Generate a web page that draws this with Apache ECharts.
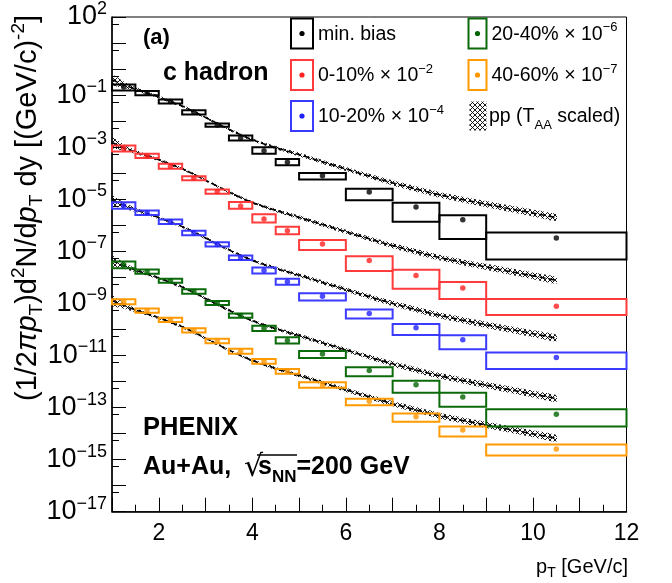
<!DOCTYPE html>
<html><head><meta charset="utf-8">
<script src="https://cdn.jsdelivr.net/npm/echarts@6/dist/echarts.min.js"></script>
<style>html,body{margin:0;padding:0;background:#fff}#c{width:672px;height:583px}</style>
</head><body><div id="c"></div>
<script>
// ---------- data ----------
const binLo = [1, 1.5, 2, 2.5, 3, 3.5, 4, 4.5, 5, 6, 7, 8, 9];
const binHi = [1.5, 2, 2.5, 3, 3.5, 4, 4.5, 5, 6, 7, 8, 9, 12];
const ptX   = [1.25, 1.75, 2.25, 2.75, 3.25, 3.75, 4.25, 4.75, 5.5, 6.5, 7.5, 8.5, 10.5];

const mbY  = [0.205, 0.119, 0.0565, 0.0219, 7.06e-3, 2.24e-3, 7.22e-4, 2.61e-4, 8.0e-5, 1.88e-5, 5.06e-6, 1.62e-6, 3.22e-7];
const mbHi = [0.258, 0.144, 0.0673, 0.0263, 8.2e-3, 2.79e-3, 1.0e-3, 3.49e-4, 1.02e-4, 2.52e-5, 7.36e-6, 2.42e-6, 5.31e-7];
const mbLo = [0.152, 0.0981, 0.0474, 0.0181, 6.14e-3, 1.80e-3, 5.56e-4, 2.01e-4, 5.69e-5, 9.19e-6, 1.36e-6, 2.95e-7, 4.84e-8];

const c0Y  = [8.93e-4, 4.62e-4, 1.86e-4, 6.43e-5, 1.97e-5, 5.52e-6, 1.73e-6, 6.16e-7, 1.90e-7, 4.44e-8, 1.19e-8, 3.91e-9, 7.73e-10];
const c0Hi = [1.16e-3, 5.56e-4, 2.31e-4, 7.66e-5, 2.37e-5, 7.83e-6, 2.64e-6, 8.75e-7, 2.70e-7, 6.47e-8, 1.95e-8, 6.62e-9, 1.49e-9];
const c0Lo = [6.86e-4, 3.81e-4, 1.49e-4, 5.39e-5, 1.62e-5, 4.35e-6, 1.28e-6, 4.57e-7, 1.12e-7, 1.74e-8, 3.68e-9, 1.49e-9, 3.57e-10];

const c1Y  = [5.66e-6, 3.01e-6, 1.36e-6, 5.13e-7, 1.82e-7, 5.67e-8, 1.85e-8, 6.79e-9, 1.89e-9, 4.11e-10, 1.17e-10, 3.99e-11, 8.45e-12];
const c1Hi = [7.71e-6, 3.66e-6, 1.66e-6, 6.22e-7, 2.21e-7, 6.89e-8, 2.40e-8, 8.85e-9, 2.46e-9, 5.83e-10, 1.62e-10, 5.97e-11, 1.31e-11];
const c1Lo = [4.35e-6, 2.46e-6, 1.12e-6, 4.19e-7, 1.52e-7, 4.68e-8, 1.42e-8, 5.23e-9, 1.29e-9, 2.65e-10, 6.18e-11, 1.75e-11, 3.03e-12];

const c2Y  = [3.02e-8, 1.66e-8, 7.43e-9, 2.88e-9, 1.03e-9, 3.42e-10, 1.10e-10, 3.75e-11, 1.13e-11, 2.66e-12, 7.44e-13, 2.53e-13, 5.56e-14];
const c2Hi = [4.06e-8, 2.02e-8, 8.85e-9, 3.49e-9, 1.25e-9, 4.11e-10, 1.40e-10, 5.01e-11, 1.47e-11, 3.52e-12, 1.06e-12, 3.69e-13, 8.61e-14];
const c2Lo = [2.26e-8, 1.37e-8, 6.22e-9, 2.37e-9, 8.59e-10, 2.82e-10, 8.79e-11, 2.88e-11, 7.94e-12, 1.60e-12, 3.69e-13, 1.07e-13, 1.87e-14];

const c3Y  = [1.15e-9, 5.30e-10, 2.32e-10, 9.18e-11, 3.59e-11, 1.46e-11, 5.95e-12, 2.48e-12, 7.38e-13, 1.74e-13, 4.39e-14, 1.37e-14, 2.58e-15];
const c3Hi = [1.43e-9, 6.37e-10, 2.82e-10, 1.10e-10, 4.36e-11, 1.81e-11, 7.28e-12, 3.03e-12, 9.44e-13, 2.18e-13, 5.86e-14, 1.87e-14, 3.77e-15];
const c3Lo = [9.21e-10, 4.37e-10, 1.93e-10, 7.57e-11, 2.96e-11, 1.17e-11, 4.86e-12, 1.99e-12, 5.73e-13, 1.22e-13, 2.83e-14, 7.80e-15, 1.44e-15];

// pp reference (min. bias normalisation) and its band half-width (decades)
const ppX    = [1, 1.25, 1.5, 1.75, 2, 2.5, 3, 3.5, 4, 4.5, 5, 6, 7, 8, 9, 10, 10.5];
const ppY    = [0.388, 0.251, 0.169, 0.119, 0.0838, 0.038, 0.01387, 0.00485, 0.00193, 9.57e-4, 5.18e-4, 1.45e-4, 4.26e-5, 1.49e-5, 6.46e-6, 2.94e-6, 1.98e-6];
const ppBand = [0.2, 0.12, 0.08, 0.06, 0.05, 0.05, 0.05, 0.05, 0.05, 0.06, 0.07, 0.08, 0.1, 0.11, 0.12, 0.13, 0.13];
const ppScale = [1, 3.89e-3, 2.34e-5, 1.12e-7, 3.31e-9];

const groupNames  = ['min. bias', '0-10%', '10-20%', '20-40%', '40-60%'];
const groupFactor = ['', '−2', '−4', '−6', '−7'];
const xTickLabels = [2, 4, 6, 8, 10, 12];

// ---------- style ----------
const FONT = '"Liberation Sans", Arial, Helvetica, sans-serif';
const boxColors = ['#000000', '#ff3b3b', '#3b3bff', '#0b6b0b', '#ff9a00'];
const dotColors = ['#000000', '#ff2020', '#2020ff', '#006400', '#ff9500'];
const groups = [
  {y: mbY, hi: mbHi, lo: mbLo},
  {y: c0Y, hi: c0Hi, lo: c0Lo},
  {y: c1Y, hi: c1Hi, lo: c1Lo},
  {y: c2Y, hi: c2Hi, lo: c2Lo},
  {y: c3Y, hi: c3Hi, lo: c3Lo}
];

// hatch pattern
const pc = document.createElement('canvas');
pc.width = 5; pc.height = 5;
const g = pc.getContext('2d');
g.strokeStyle = '#000'; g.lineWidth = 0.9;
g.beginPath(); g.moveTo(0, 0); g.lineTo(5, 5); g.moveTo(5, 0); g.lineTo(0, 5); g.stroke();
const hatch = {image: pc, repeat: 'repeat'};

const series = [];
ppScale.forEach((s, k) => {
  series.push({
    type: 'custom', coordinateSystem: 'cartesian2d', silent: true, z: 2, clip: false,
    encode: {x: 0, y: 1},
    data: [[ppX[0], ppY[0] * s]],
    renderItem: (params, api) => {
      const pts = [];
      for (let i = 0; i < ppX.length; i++) pts.push(api.coord([ppX[i], ppY[i] * s * Math.pow(10, ppBand[i])]));
      for (let i = ppX.length - 1; i >= 0; i--) pts.push(api.coord([ppX[i], ppY[i] * s / Math.pow(10, ppBand[i])]));
      return {type: 'polygon', shape: {points: pts, smooth: 0.2}, style: {fill: hatch, stroke: null}};
    }
  });
  series.push({
    type: 'line', silent: true, z: 3, showSymbol: false, smooth: 0.3,
    data: ppX.map((x, i) => [x, ppY[i] * s]),
    lineStyle: {color: '#000', width: 1.6, type: [6, 3]}
  });
});
groups.forEach((gr, k) => {
  series.push({
    type: 'custom', coordinateSystem: 'cartesian2d', silent: true, z: 4, clip: false,
    encode: {x: [0, 1], y: [2, 3]},
    data: binLo.map((b, i) => [b, binHi[i], gr.lo[i], gr.hi[i]]),
    renderItem: (params, api) => {
      const p1 = api.coord([api.value(0), api.value(3)]);
      const p2 = api.coord([api.value(1), api.value(2)]);
      return {type: 'rect', shape: {x: p1[0], y: p1[1], width: p2[0] - p1[0], height: p2[1] - p1[1]},
        style: {fill: 'none', stroke: boxColors[k], lineWidth: 2}};
    }
  });
  series.push({
    type: 'scatter', silent: true, z: 5, symbolSize: 5.5,
    data: ptX.map((x, i) => [x, gr.y[i]]),
    itemStyle: {color: dotColors[k]}
  });
});

// legend + annotations
const graphic = [];
const legendPos = [[291, 18.5, 22], [291, 60, 22], [291, 101, 22], [468.5, 18.5, 18], [468.5, 60, 18]];
legendPos.forEach((p, k) => {
  graphic.push({type: 'rect', shape: {x: p[0], y: p[1], width: p[2], height: 30}, style: {fill: 'none', stroke: boxColors[k], lineWidth: 2}, z: 10});
  graphic.push({type: 'circle', shape: {cx: p[0] + p[2] / 2, cy: p[1] + 15, r: 2.6}, style: {fill: dotColors[k]}, z: 10});
  const txt = k === 0 ? groupNames[k] : groupNames[k] + ' × 10{sup|' + groupFactor[k] + '}';
  graphic.push({type: 'text', x: p[0] + p[2] + 5, y: p[1] + 16, z: 10, style: {
    text: txt, fontSize: 19.5, fontFamily: FONT, fill: '#000', verticalAlign: 'middle', textVerticalAlign: 'middle',
    rich: {sup: {fontSize: 13, fontFamily: FONT, padding: [0, 0, 14, 0]}}}});
});
graphic.push({type: 'rect', shape: {x: 469.5, y: 101.5, width: 17, height: 29}, style: {fill: hatch, stroke: null}, z: 10});
graphic.push({type: 'text', x: 489, y: 117, z: 10, style: {
  text: 'pp (T{sub|AA} scaled)', fontSize: 19.5, fontFamily: FONT, fill: '#000', verticalAlign: 'middle', textVerticalAlign: 'middle',
  rich: {sub: {fontSize: 13, fontFamily: FONT, padding: [16, 0, 0, 0]}}}});

graphic.push({type: 'text', x: 143, y: 38, z: 10, style: {text: '(a)', fontSize: 22, fontWeight: 'bold', fontFamily: FONT, fill: '#000', verticalAlign: 'middle', textVerticalAlign: 'middle'}});
graphic.push({type: 'text', x: 163, y: 73, z: 10, style: {text: 'c hadron', fontSize: 25, fontWeight: 'bold', fontFamily: FONT, fill: '#000', verticalAlign: 'middle', textVerticalAlign: 'middle'}});
graphic.push({type: 'text', x: 143, y: 428, z: 10, style: {text: 'PHENIX', fontSize: 25.5, fontWeight: 'bold', fontFamily: FONT, fill: '#000', verticalAlign: 'middle', textVerticalAlign: 'middle'}});
graphic.push({type: 'text', x: 143, y: 467, z: 10, style: {text: 'Au+Au,', fontSize: 25, fontWeight: 'bold', fontFamily: FONT, fill: '#000', verticalAlign: 'middle', textVerticalAlign: 'middle'}});
graphic.push({type: 'text', x: 244, y: 468, z: 10, style: {text: '√', fontSize: 30, fontFamily: 'DejaVu Sans', fill: '#000', verticalAlign: 'middle', textVerticalAlign: 'middle'}});
graphic.push({type: 'line', shape: {x1: 257, y1: 455, x2: 297, y2: 455}, style: {stroke: '#000', lineWidth: 1.5}, z: 10});
graphic.push({type: 'text', x: 258, y: 467, z: 10, style: {
  text: 's{sub|NN}=200 GeV', fontSize: 25, fontWeight: 'bold', fontFamily: FONT, fill: '#000', verticalAlign: 'middle', textVerticalAlign: 'middle',
  rich: {sub: {fontSize: 17, fontWeight: 'bold', fontFamily: FONT, padding: [20, 0, 0, 0]}}}});

// axis titles
graphic.push({type: 'text', x: 628, y: 567, z: 10, style: {
  text: 'p{sub|T} [GeV/c]', fontSize: 20, fontFamily: FONT, fill: '#000', align: 'right', textAlign: 'right', verticalAlign: 'middle', textVerticalAlign: 'middle',
  rich: {sub: {fontSize: 14, fontFamily: FONT, padding: [12, 0, 0, 0]}}}});
graphic.push({type: 'text', x: 28, y: 208, rotation: Math.PI / 2, z: 10, style: {
  text: '(1/2{i|πp}{sub|T}){n|d}{sup|2}{n|N/d}{i|p}{sub|T}{n| dy [(GeV/c)}{sup|-2}{n|]}',
  fontSize: 29, fontFamily: FONT, fill: '#000', align: 'center', textAlign: 'center', verticalAlign: 'middle', textVerticalAlign: 'middle',
  rich: {
    n: {fontSize: 29, fontFamily: FONT},
    i: {fontSize: 29, fontFamily: FONT, fontStyle: 'italic'},
    sub: {fontSize: 19, fontFamily: FONT, padding: [18, 0, 0, 0]},
    sup: {fontSize: 19, fontFamily: FONT, padding: [0, 0, 18, 0]}
  }}});

const option = {
  animation: false,
  backgroundColor: '#fff',
  grid: {left: 112, right: 45.5, top: 12.7, bottom: 71.3, show: true, borderColor: '#000', borderWidth: 1, backgroundColor: 'transparent'},
  xAxis: {
    type: 'value', min: 1, max: 12, interval: 1,
    axisLine: {lineStyle: {color: '#000', width: 1.5}},
    axisTick: {inside: true, length: 14, lineStyle: {color: '#000', width: 1}},
    minorTick: {show: true, splitNumber: 2, length: 7, lineStyle: {color: '#000', width: 1}},
    splitLine: {show: false},
    axisLabel: {
      margin: 10, color: '#000', fontSize: 23, fontFamily: FONT,
      formatter: v => (xTickLabels.indexOf(v) >= 0 ? String(v) : '')
    }
  },
  yAxis: {
    type: 'log', logBase: 10, min: 1e-17, max: 100, interval: 1, splitNumber: 19,
    axisLine: {lineStyle: {color: '#000', width: 1.5}},
    axisTick: {inside: true, length: 14, lineStyle: {color: '#000', width: 1}},
    minorTick: {show: true, splitNumber: 2, length: 7, lineStyle: {color: '#000', width: 1}},
    splitLine: {show: false},
    axisLabel: {
      margin: 5, color: '#000', fontFamily: FONT, showMaxLabel: true, showMinLabel: true, hideOverlap: false,
      formatter: v => {
        const e = Math.round(Math.log10(v));
        if (e === 1) return '{b|10}';
        if (e === 2 || e % 2 !== 0) return '{b|10}{s|' + (e < 0 ? '−' + (-e) : e) + '}';
        return '';
      },
      rich: {
        b: {fontSize: 27, fontFamily: FONT, color: '#000'},
        s: {fontSize: 18, fontFamily: FONT, color: '#000', padding: [0, 0, 16, 0]}
      }
    }
  },
  series: series,
  graphic: graphic
};
const chart = echarts.init(document.getElementById('c'), null, {renderer: 'canvas'});
chart.setOption(option);
</script>
</body></html>
